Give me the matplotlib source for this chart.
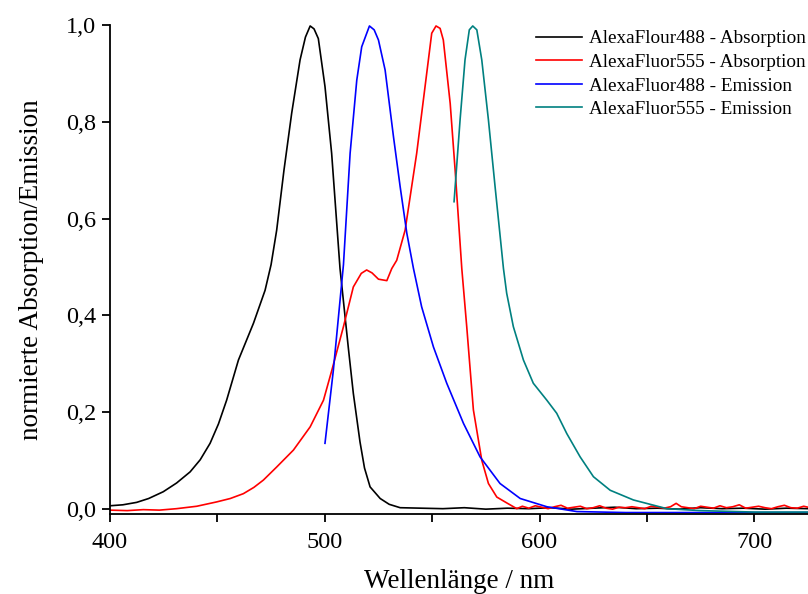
import matplotlib
matplotlib.use("Agg")
import matplotlib.pyplot as plt
from matplotlib.ticker import MultipleLocator, FuncFormatter

# values (wavelength in nm, normalised intensity)
abs488_nm = [400, 406, 412.4, 418, 424.8, 431, 437.3, 442, 446.6, 450.5, 454.3, 459.8,
             466.8, 472.2, 475.0, 477.6, 481.0, 484.6, 488.5, 491.0, 493.2, 495.0,
             497.0, 500.1, 503.2, 507.1, 511.0, 513.3, 516.4, 518.5, 521.1, 525.8,
             530.0, 535.1, 545, 555, 565, 575, 585, 595, 605, 615, 625, 635, 645,
             655, 665, 675, 685, 695, 705, 715, 725]
abs488_val = [0.007, 0.009, 0.014, 0.022, 0.036, 0.054, 0.077, 0.102, 0.136, 0.176,
              0.225, 0.308, 0.384, 0.452, 0.505, 0.576, 0.700, 0.818, 0.928, 0.975,
              0.998, 0.992, 0.972, 0.873, 0.735, 0.497, 0.332, 0.239, 0.139, 0.085,
              0.046, 0.022, 0.010, 0.003, 0.002, 0.001, 0.003, 0.000, 0.002, 0.001,
              0.003, 0.000, 0.002, 0.004, 0.001, 0.002, 0.000, 0.003, 0.001, 0.002,
              0.000, 0.002, 0.001]

abs555_nm = [400, 408, 415.5, 423, 431, 440.4, 449.7, 456, 462.1, 467, 471.4, 477.6,
             485.4, 493.2, 499.4, 503.3, 508.7, 513.3, 517.0, 519.5, 522.0, 525.0,
             528.9, 531.2, 533.5, 537.4, 542.8, 546.7, 549.8, 551.8, 553.7, 555.2,
             558.4, 560.7, 563.8, 566.1, 569.2, 573.1, 576.2, 580.1, 584.7, 589.4,
             592, 595, 598, 601, 604, 607, 610, 613, 616, 619, 622, 625, 628, 631,
             634, 637, 640, 643, 646, 649, 652, 655, 658, 661, 663.6, 666, 669, 672,
             675, 678, 681, 684, 687, 690, 693, 696, 699, 702, 705, 708, 711, 714,
             717, 720, 723, 725]
abs555_val = [-0.002, -0.003, -0.001, -0.002, 0.001, 0.006, 0.015, 0.022, 0.032, 0.045,
              0.060, 0.087, 0.122, 0.170, 0.225, 0.287, 0.377, 0.459, 0.487, 0.494,
              0.488, 0.475, 0.472, 0.497, 0.514, 0.576, 0.735, 0.873, 0.983, 0.998,
              0.993, 0.969, 0.838, 0.700, 0.497, 0.377, 0.205, 0.101, 0.053, 0.025,
              0.013, 0.001, 0.006, 0.002, 0.007, 0.004, 0.001, 0.005, 0.008, 0.002,
              0.004, 0.006, 0.001, 0.003, 0.007, 0.002, 0.000, 0.004, 0.003, 0.005,
              0.003, 0.001, 0.006, 0.004, 0.002, 0.005, 0.012, 0.005, 0.003, 0.001,
              0.006, 0.004, 0.002, 0.007, 0.003, 0.005, 0.009, 0.002, 0.004, 0.006,
              0.003, 0.001, 0.005, 0.008, 0.003, 0.002, 0.006, 0.004]

em488_nm = [500.1, 504.0, 508.7, 511.8, 514.9, 517.2, 520.8, 523.0, 525.0, 528.1,
            532.0, 535.1, 538.2, 541.3, 545.1, 550.6, 556.8, 564.6, 572.3, 581.6,
            591.0, 603.4, 617.4, 640, 680, 725]
em488_val = [0.136, 0.287, 0.505, 0.735, 0.886, 0.955, 0.998, 0.990, 0.969, 0.907,
             0.769, 0.666, 0.570, 0.497, 0.418, 0.335, 0.260, 0.177, 0.108, 0.053,
             0.022, 0.005, -0.005, -0.007, -0.007, -0.007]

em555_nm = [560.2, 563.0, 565.3, 567.3, 568.9, 570.8, 573.1, 576.2, 579.3, 583.2,
            584.7, 587.8, 592.5, 597.1, 603.4, 608.0, 612.7, 618.9, 625.1, 632.9,
            643.7, 659.3, 674.8, 700, 725]
em555_val = [0.635, 0.804, 0.928, 0.990, 0.998, 0.990, 0.928, 0.804, 0.666, 0.497,
             0.446, 0.377, 0.308, 0.260, 0.225, 0.198, 0.156, 0.108, 0.067, 0.039,
             0.019, 0.001, -0.003, -0.006, -0.006]

labels = ["AlexaFlour488 - Absorption", "AlexaFluor555 - Absorption",
          "AlexaFluor488 - Emission", "AlexaFluor555 - Emission"]
colors = ["black", "red", "blue", "#008080"]

plt.rcParams["font.family"] = ["Liberation Serif", "DejaVu Serif"]

fig = plt.figure(figsize=(8.08, 5.94), dpi=100)
ax = fig.add_axes([110 / 808, 80 / 594, 1 - 110 / 808, (514 - 25) / 594])

series = [(abs488_nm, abs488_val), (abs555_nm, abs555_val),
          (em488_nm, em488_val), (em555_nm, em555_val)]
for (x, y), lab, c in zip(series, labels, colors):
    ax.plot(x, y, color=c, lw=1.2, label=lab)

ax.set_xlim(400, 725)
ax.set_ylim(-0.01, 1.0)
ax.xaxis.set_major_locator(MultipleLocator(100))
ax.xaxis.set_minor_locator(MultipleLocator(50))
ax.yaxis.set_major_locator(MultipleLocator(0.2))
ax.yaxis.set_major_formatter(FuncFormatter(lambda v, p: f"{v:.1f}".replace(".", ",").replace("-0,0", "0,0")))

for s in ["top", "right"]:
    ax.spines[s].set_visible(False)
for s in ["left", "bottom"]:
    ax.spines[s].set_linewidth(1.3)
ax.tick_params(which="major", direction="out", length=6, width=1.3, labelsize=17.5)
ax.tick_params(axis="x", which="major", pad=7)
ax.tick_params(axis="y", which="major", pad=4)
ax.tick_params(which="minor", direction="out", length=6, width=1.3)

ax.set_xlabel("Wellenlänge / nm", fontsize=19.5)
ax.set_ylabel("normierte Absorption/Emission", fontsize=19.5)
ax.xaxis.set_label_coords(0.5, (514 - 569) / 489)
ax.yaxis.set_label_coords((44 - 110) / 698, 0.5)

fig.legend(loc="upper left", bbox_to_anchor=(536 / 808, 1 - 30 / 594), frameon=False,
           fontsize=13.8, handlelength=2.4, handletextpad=0.35, labelspacing=0.32,
           borderpad=0, borderaxespad=0)

fig.savefig("out.png", dpi=100)
